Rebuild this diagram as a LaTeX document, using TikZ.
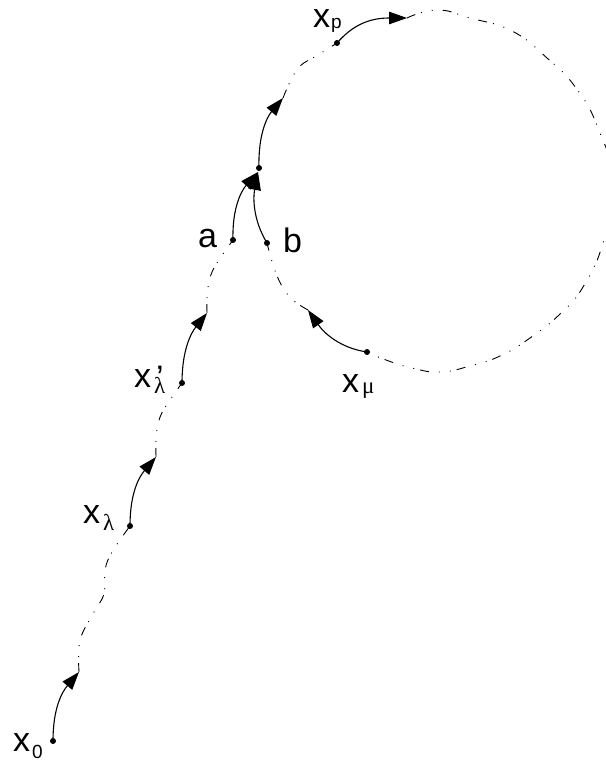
\documentclass[tikz,border=0pt]{standalone}
\usepackage{fontspec}
\setmainfont{Liberation Sans}
\newfontfamily\grk{Liberation Serif}
\usetikzlibrary{arrows.meta}
\newcommand\subtx[2]{\raisebox{-#1pt}{\fontsize{19}{20}\selectfont #2}}
\newcommand\subgr[2]{\raisebox{-#1pt}{\fontsize{23}{24}\selectfont\grk #2}}
\begin{document}
\begin{tikzpicture}[x=1pt,y=-1pt,
  dotpt/.style={circle,fill,inner sep=0pt,minimum size=6pt},
  arr/.style={line width=1.1pt,-{Triangle[length=18pt,width=12.5pt]}},
  dd/.style={line width=0.9pt,dash pattern=on 9pt off 6pt on 1pt off 10pt on 1pt off 10pt},
  lab/.style={anchor=base west,inner sep=0pt,font=\fontsize{34}{36}\selectfont}]
\useasboundingbox (0,0) rectangle (605,762);
% points
\node[dotpt] (x0) at (53,741) {};
\node[dotpt] (xl) at (130,526) {};
\node[dotpt] (xlp) at (182,383) {};
\node[dotpt] (a) at (233,240) {};
\node[dotpt] (b) at (267,243) {};
\node[dotpt] (top) at (259,168) {};
\node[dotpt] (xp) at (337,43) {};
\node[dotpt] (xm) at (367,352) {};
% arrow tips
\coordinate (t0) at (79,672);
\coordinate (tl) at (156,457);
\coordinate (tlp) at (207,313);
\coordinate (ttop) at (258,172);
\coordinate (t5) at (283,98);
\coordinate (tp) at (407,18);
\coordinate (tm) at (308,310);
% dotted trajectory
\draw[dd] plot[smooth,tension=0.6] coordinates {(t0) (80,640) (94,612) (104,594) (105,570) (112,552) (xl.center)};
\draw[dd] plot[smooth,tension=0.6] coordinates {(tl) (156,440) (158,424) (164,409) (xlp.center)};
\draw[dd] plot[smooth,tension=0.6] coordinates {(tlp) (207,298) (209,282) (215,266) (a.center)};
\draw[dd] plot[smooth,tension=0.6] coordinates {(t5) (290,82) (300,66) (318,55) (xp.center)};
\draw[dd] plot[smooth,tension=0.8] coordinates {(tp) (437,10) (470,18) (512,31) (547,58) (576,88) (598,128) (614,185) (603,243) (583,287) (560,314) (530,338) (500,356) (470,366) (440,372) (412,368) (386,360) (xm.center)};
\draw[dd] plot[smooth,tension=0.6] coordinates {(tm) (294,301) (283,288) (274,268) (b.center)};
% motion arrows
\draw[arr] (x0.center) .. controls (53,708) and (62,692) .. (t0);
\draw[arr] (xl.center) .. controls (130,493) and (139,477) .. (tl);
\draw[arr] (xlp.center) .. controls (182,350) and (191,333) .. (tlp);
\draw[arr] (a.center) .. controls (232,207) and (242,190) .. (ttop);
\draw[arr] (b.center) .. controls (253,220) and (253,198) .. (ttop);
\draw[arr] (top.center) .. controls (258,135) and (267,117) .. (t5);
\draw[arr] (xp.center) .. controls (352,26) and (368,18) .. (tp);
\draw[arr] (xm.center) .. controls (340,348) and (324,333) .. (tm);
% labels
\node[lab] (lx0) at (13,751) {x\hspace{2pt}\subtx{7}{0}};
\node[lab] (lxl) at (83,523) {x\hspace{3pt}\subgr{7}{λ}};
\node[lab] (lxlp) at (134,387) {x\hspace{3pt}\rlap{\hspace{2pt}\raisebox{-2pt}{\char"0027}}\subgr{6}{λ}};
\node[lab] (la) at (198,247) {a};
\node[lab] (lb) at (283,252) {b};
\node[lab] (lxp) at (313,28) {x\hspace{1pt}\subtx{1}{p}};
\node[lab] (lxm) at (342,392) {x\hspace{3pt}\subgr{1}{μ}};
\end{tikzpicture}
\end{document}
